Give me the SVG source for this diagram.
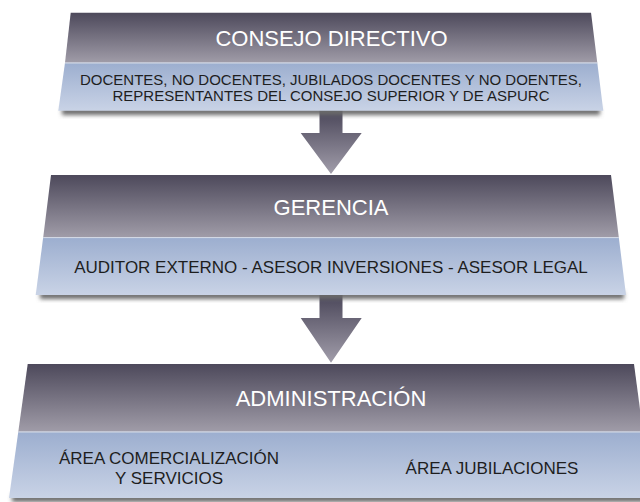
<svg xmlns="http://www.w3.org/2000/svg" width="640" height="502" viewBox="0 0 640 502">
<defs>
<linearGradient id="dark" x1="0" y1="0" x2="0" y2="1">
<stop offset="0" stop-color="#4d495b"/>
<stop offset="1" stop-color="#a09ca8"/>
</linearGradient>
<linearGradient id="light" x1="0" y1="0" x2="0" y2="1">
<stop offset="0" stop-color="#9caecf"/>
<stop offset="1" stop-color="#c9d3e6"/>
</linearGradient>
<linearGradient id="arrow" x1="0" y1="0" x2="0" y2="1">
<stop offset="0" stop-color="#4a4659"/>
<stop offset="1" stop-color="#a19daa"/>
</linearGradient>
<filter id="sh" x="-5%" y="-50%" width="110%" height="200%">
<feGaussianBlur stdDeviation="2"/>
</filter>
<style>
.title{font-family:"Liberation Sans",Arial,sans-serif;font-size:22px;fill:#ffffff;text-anchor:middle}
.sub{font-family:"Liberation Sans",Arial,sans-serif;fill:#1e1e1e;text-anchor:middle}
.shadow{fill:#6a6a6a;filter:url(#sh)}
.edge{stroke:#d6dbe6;stroke-width:1}
</style>
</defs>
<rect width="640" height="502" fill="#ffffff"/>
<g id="connectors">
<path d="M319.5 110 H342.5 V133 H361.7 L331 174 L300.7 133 H319.5 Z" fill="url(#arrow)"/>
<path d="M319.5 294 H342.5 V318 H361.7 L331 362.7 L300.7 318 H319.5 Z" fill="url(#arrow)"/>
</g>
<g id="consejo">
<rect class="shadow" x="62" y="108" width="538" height="7"/>
<polygon points="70.7,12.7 591,12.7 597.3,62.7 65,62.7" fill="url(#dark)"/>
<polygon points="65,62.7 597.3,62.7 603.3,110.7 58.3,110.7" fill="url(#light)"/>
<line class="edge" x1="65" y1="63" x2="597.3" y2="63"/>
<text class="title" x="331.5" y="45.7">CONSEJO DIRECTIVO</text>
<text class="sub" x="331" y="85" font-size="15">DOCENTES, NO DOCENTES, JUBILADOS DOCENTES Y NO DOENTES,</text>
<text class="sub" x="331" y="100.7" font-size="15">REPRESENTANTES DEL CONSEJO SUPERIOR Y DE ASPURC</text>
</g>
<g id="gerencia">
<rect class="shadow" x="40" y="292" width="584" height="7"/>
<polygon points="51,175 611,175 618.8,237.3 43.2,237.3" fill="url(#dark)"/>
<polygon points="43.2,237.3 618.8,237.3 626,295 35.7,295" fill="url(#light)"/>
<line class="edge" x1="43.2" y1="237.6" x2="618.8" y2="237.6"/>
<text class="title" x="331" y="215">GERENCIA</text>
<text class="sub" x="331" y="273.3" font-size="17">AUDITOR EXTERNO - ASESOR INVERSIONES - ASESOR LEGAL</text>
</g>
<g id="administracion">
<rect class="shadow" x="12" y="495" width="640" height="7"/>
<polygon points="27.7,364 634,364 643,431.7 18.3,431.7" fill="url(#dark)"/>
<polygon points="18.3,431.7 643,431.7 652,498 9,498" fill="url(#light)"/>
<line class="edge" x1="18.3" y1="432" x2="643" y2="432"/>
<text class="title" x="331" y="406">ADMINISTRACIÓN</text>
<text class="sub" x="169" y="464" font-size="17">ÁREA COMERCIALIZACIÓN</text>
<text class="sub" x="169" y="484" font-size="17">Y SERVICIOS</text>
<text class="sub" x="492" y="474" font-size="17">ÁREA JUBILACIONES</text>
</g>
</svg>
